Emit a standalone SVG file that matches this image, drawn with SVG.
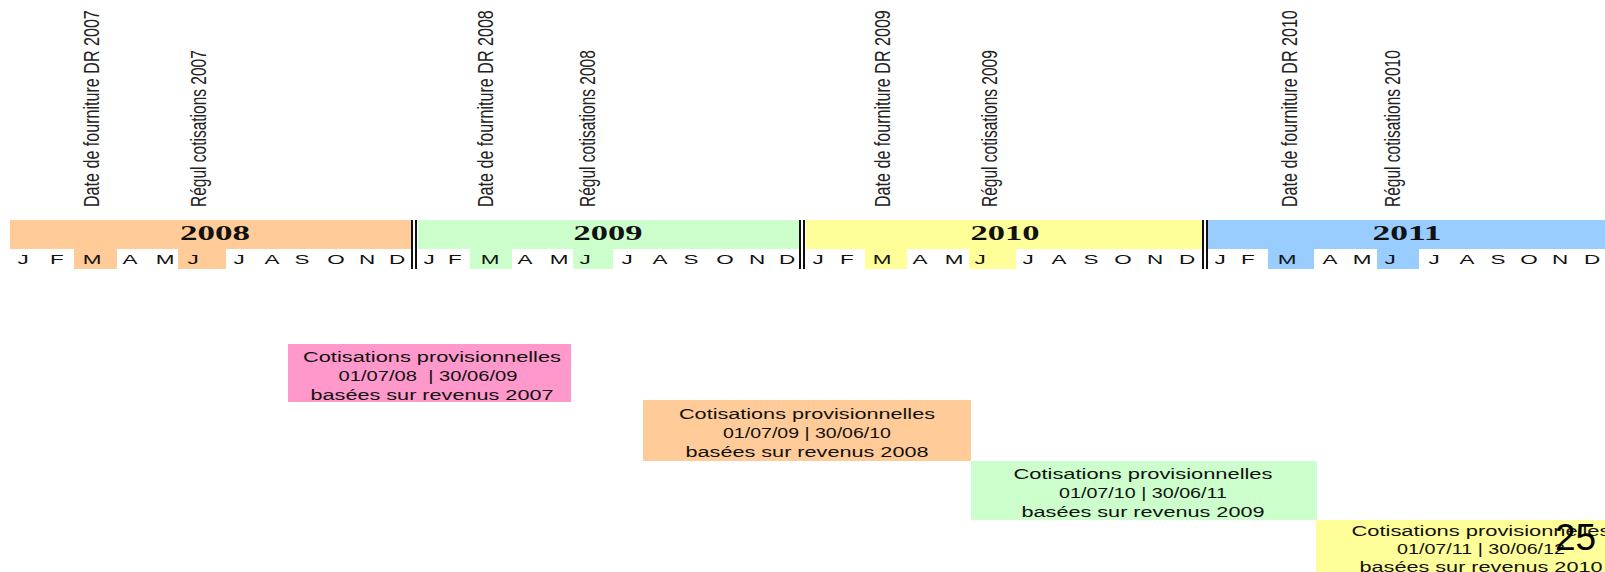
<svg xmlns="http://www.w3.org/2000/svg" width="1605" height="572" viewBox="0 0 1605 572">
<style>
.lbl{font-family:"Liberation Sans",Arial,sans-serif;font-size:22px;fill:#222}
.yr{font-family:"Liberation Serif","Times New Roman",serif;font-size:21px;font-weight:bold;fill:#111;text-anchor:middle}
.m{font-family:"Liberation Sans",Arial,sans-serif;font-size:12.5px;fill:#111;text-anchor:middle}
.b{font-family:"Liberation Sans",Arial,sans-serif;font-size:14px;fill:#111;text-anchor:middle}
.sep{fill:#111}
</style>
<rect width="1605" height="572" fill="#fff"/>

<g id="labels">
<text class="lbl" transform="translate(99 207) rotate(-90) scale(0.732 1)">Date de fourniture DR 2007</text>
<text class="lbl" transform="translate(206 207) rotate(-90) scale(0.705 1)">Régul cotisations 2007</text>
<text class="lbl" transform="translate(493 207) rotate(-90) scale(0.732 1)">Date de fourniture DR 2008</text>
<text class="lbl" transform="translate(595 207) rotate(-90) scale(0.705 1)">Régul cotisations 2008</text>
<text class="lbl" transform="translate(890 207) rotate(-90) scale(0.732 1)">Date de fourniture DR 2009</text>
<text class="lbl" transform="translate(997 207) rotate(-90) scale(0.705 1)">Régul cotisations 2009</text>
<text class="lbl" transform="translate(1297 207) rotate(-90) scale(0.732 1)">Date de fourniture DR 2010</text>
<text class="lbl" transform="translate(1400 207) rotate(-90) scale(0.705 1)">Régul cotisations 2010</text>
</g>

<g id="year2008">
<rect x="10" y="220" width="401" height="29" fill="#FFCC99"/>
<rect x="74" y="249" width="43" height="20" fill="#FFCC99"/>
<rect x="178" y="249" width="48" height="20" fill="#FFCC99"/>
<text class="yr" x="215" y="240" textLength="70" lengthAdjust="spacingAndGlyphs">2008</text>
<text class="m" transform="translate(23 264) scale(1.8 1)">J</text>
<text class="m" transform="translate(57 264) scale(1.8 1)">F</text>
<text class="m" transform="translate(92 264) scale(1.8 1)">M</text>
<text class="m" transform="translate(130 264) scale(1.8 1)">A</text>
<text class="m" transform="translate(165 264) scale(1.8 1)">M</text>
<text class="m" transform="translate(193 264) scale(1.8 1)">J</text>
<text class="m" transform="translate(239 264) scale(1.8 1)">J</text>
<text class="m" transform="translate(272 264) scale(1.8 1)">A</text>
<text class="m" transform="translate(302 264) scale(1.8 1)">S</text>
<text class="m" transform="translate(336 264) scale(1.8 1)">O</text>
<text class="m" transform="translate(367 264) scale(1.8 1)">N</text>
<text class="m" transform="translate(397 264) scale(1.8 1)">D</text>
</g>

<g id="year2009">
<rect x="418" y="220" width="381" height="29" fill="#CCFFCC"/>
<rect x="470" y="249" width="42" height="20" fill="#CCFFCC"/>
<rect x="573" y="249" width="40" height="20" fill="#CCFFCC"/>
<text class="yr" x="608" y="240" textLength="69" lengthAdjust="spacingAndGlyphs">2009</text>
<text class="m" transform="translate(429 264) scale(1.8 1)">J</text>
<text class="m" transform="translate(455 264) scale(1.8 1)">F</text>
<text class="m" transform="translate(490 264) scale(1.8 1)">M</text>
<text class="m" transform="translate(525 264) scale(1.8 1)">A</text>
<text class="m" transform="translate(559 264) scale(1.8 1)">M</text>
<text class="m" transform="translate(585 264) scale(1.8 1)">J</text>
<text class="m" transform="translate(627 264) scale(1.8 1)">J</text>
<text class="m" transform="translate(660 264) scale(1.8 1)">A</text>
<text class="m" transform="translate(691 264) scale(1.8 1)">S</text>
<text class="m" transform="translate(725 264) scale(1.8 1)">O</text>
<text class="m" transform="translate(757 264) scale(1.8 1)">N</text>
<text class="m" transform="translate(787 264) scale(1.8 1)">D</text>
</g>

<g id="year2010">
<rect x="806" y="220" width="397" height="29" fill="#FFFF99"/>
<rect x="865" y="249" width="42" height="20" fill="#FFFF99"/>
<rect x="969" y="249" width="47" height="20" fill="#FFFF99"/>
<text class="yr" x="1005" y="240" textLength="69" lengthAdjust="spacingAndGlyphs">2010</text>
<text class="m" transform="translate(818 264) scale(1.8 1)">J</text>
<text class="m" transform="translate(847 264) scale(1.8 1)">F</text>
<text class="m" transform="translate(882 264) scale(1.8 1)">M</text>
<text class="m" transform="translate(920 264) scale(1.8 1)">A</text>
<text class="m" transform="translate(954 264) scale(1.8 1)">M</text>
<text class="m" transform="translate(980 264) scale(1.8 1)">J</text>
<text class="m" transform="translate(1028 264) scale(1.8 1)">J</text>
<text class="m" transform="translate(1059 264) scale(1.8 1)">A</text>
<text class="m" transform="translate(1091 264) scale(1.8 1)">S</text>
<text class="m" transform="translate(1123 264) scale(1.8 1)">O</text>
<text class="m" transform="translate(1155 264) scale(1.8 1)">N</text>
<text class="m" transform="translate(1187 264) scale(1.8 1)">D</text>
</g>

<g id="year2011">
<rect x="1208" y="220" width="397" height="29" fill="#99CCFF"/>
<rect x="1268" y="249" width="46" height="20" fill="#99CCFF"/>
<rect x="1377" y="249" width="42" height="20" fill="#99CCFF"/>
<text class="yr" x="1407" y="240" textLength="69" lengthAdjust="spacingAndGlyphs">2011</text>
<text class="m" transform="translate(1220 264) scale(1.8 1)">J</text>
<text class="m" transform="translate(1248 264) scale(1.8 1)">F</text>
<text class="m" transform="translate(1287 264) scale(1.8 1)">M</text>
<text class="m" transform="translate(1330 264) scale(1.8 1)">A</text>
<text class="m" transform="translate(1362 264) scale(1.8 1)">M</text>
<text class="m" transform="translate(1390 264) scale(1.8 1)">J</text>
<text class="m" transform="translate(1434 264) scale(1.8 1)">J</text>
<text class="m" transform="translate(1467 264) scale(1.8 1)">A</text>
<text class="m" transform="translate(1498 264) scale(1.8 1)">S</text>
<text class="m" transform="translate(1529 264) scale(1.8 1)">O</text>
<text class="m" transform="translate(1560 264) scale(1.8 1)">N</text>
<text class="m" transform="translate(1592 264) scale(1.8 1)">D</text>
</g>

<g id="separators">
<rect class="sep" x="411" y="220" width="2" height="49"/>
<rect class="sep" x="415" y="220" width="2" height="49"/>
<rect class="sep" x="799" y="220" width="2" height="49"/>
<rect class="sep" x="803" y="220" width="2" height="49"/>
<rect class="sep" x="1202" y="220" width="2" height="49"/>
<rect class="sep" x="1206" y="220" width="2" height="49"/>
</g>

<g id="box2007">
<rect x="288" y="344" width="283" height="58" fill="#FF99CC"/>
<text class="b" x="432" y="362" textLength="258" lengthAdjust="spacingAndGlyphs">Cotisations provisionnelles</text>
<text class="b" x="428" y="381" textLength="179" lengthAdjust="spacingAndGlyphs" xml:space="preserve">01/07/08  | 30/06/09</text>
<text class="b" x="432" y="400" textLength="243" lengthAdjust="spacingAndGlyphs">basées sur revenus 2007</text>
</g>

<g id="box2008">
<rect x="643" y="400" width="328" height="61" fill="#FFCC99"/>
<text class="b" x="807" y="419" textLength="256" lengthAdjust="spacingAndGlyphs">Cotisations provisionnelles</text>
<text class="b" x="807" y="438" textLength="168" lengthAdjust="spacingAndGlyphs">01/07/09 | 30/06/10</text>
<text class="b" x="807" y="457" textLength="243" lengthAdjust="spacingAndGlyphs">basées sur revenus 2008</text>
</g>

<g id="box2009">
<rect x="971" y="461" width="346" height="59" fill="#CCFFCC"/>
<text class="b" x="1143" y="479" textLength="259" lengthAdjust="spacingAndGlyphs">Cotisations provisionnelles</text>
<text class="b" x="1143" y="498" textLength="168" lengthAdjust="spacingAndGlyphs">01/07/10 | 30/06/11</text>
<text class="b" x="1143" y="517" textLength="243" lengthAdjust="spacingAndGlyphs">basées sur revenus 2009</text>
</g>

<g id="box2010">
<rect x="1316" y="520" width="330" height="60" fill="#FFFF99"/>
<text class="b" x="1481" y="536" textLength="259" lengthAdjust="spacingAndGlyphs">Cotisations provisionnelles</text>
<text class="b" x="1481" y="554" textLength="168" lengthAdjust="spacingAndGlyphs">01/07/11 | 30/06/12</text>
<text class="b" x="1481" y="572" textLength="243" lengthAdjust="spacingAndGlyphs">basées sur revenus 2010</text>
</g>

<text x="1555" y="550" font-family="Liberation Sans, Arial, sans-serif" font-size="37" fill="#000">25</text>
</svg>
